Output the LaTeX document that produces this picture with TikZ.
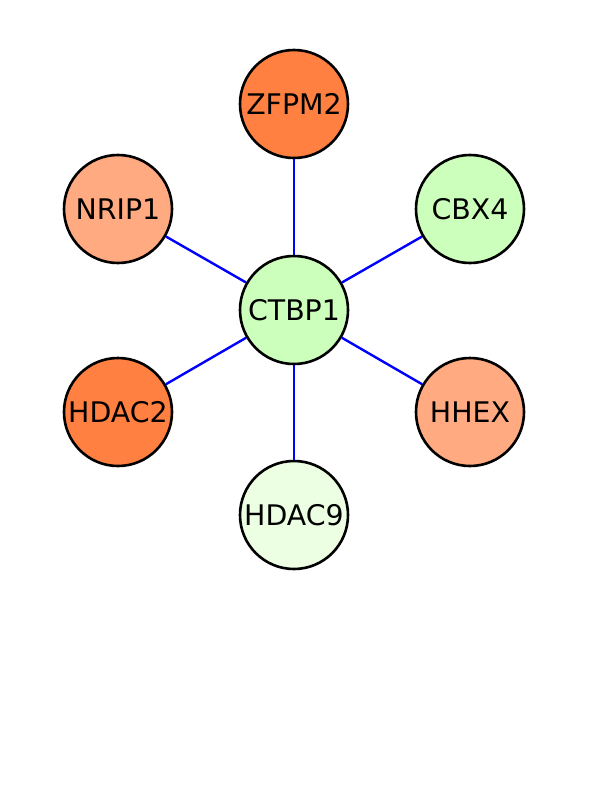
\documentclass[tikz,border=0pt]{standalone}
\usepackage{fontspec}
\setmainfont{DejaVu Sans}
\definecolor{orangeA}{RGB}{255,128,64}
\definecolor{salmonA}{RGB}{255,170,128}
\definecolor{greenA}{RGB}{204,255,187}
\definecolor{greenB}{RGB}{236,255,226}
\definecolor{edgeblue}{RGB}{0,0,255}
\begin{document}
\begin{tikzpicture}[x=1bp,y=-1bp,
  gene/.style={circle,draw=black,line width=2.6bp,minimum size=108bp,inner sep=0pt,font=\fontsize{28.5}{31}\selectfont},
  link/.style={draw=edgeblue,line width=2.4bp}]
\useasboundingbox (0,0) rectangle (612,792);
\fill[white] (0,0) rectangle (612,792);
\node[gene,fill=greenA] (ctbp1) at (294,310) {CTBP1};
\node[gene,fill=orangeA] (zfpm2) at (294,104) {ZFPM2};
\node[gene,fill=salmonA] (nrip1) at (118,209) {NRIP1};
\node[gene,fill=greenA] (cbx4) at (470,209) {CBX4};
\node[gene,fill=orangeA] (hdac2) at (118,412) {HDAC2};
\node[gene,fill=salmonA] (hhex) at (470,412) {HHEX};
\node[gene,fill=greenB] (hdac9) at (294,515) {HDAC9};
\draw[link] (ctbp1) -- (zfpm2);
\draw[link] (ctbp1) -- (nrip1);
\draw[link] (ctbp1) -- (cbx4);
\draw[link] (ctbp1) -- (hdac2);
\draw[link] (ctbp1) -- (hhex);
\draw[link] (ctbp1) -- (hdac9);
\end{tikzpicture}
\end{document}
